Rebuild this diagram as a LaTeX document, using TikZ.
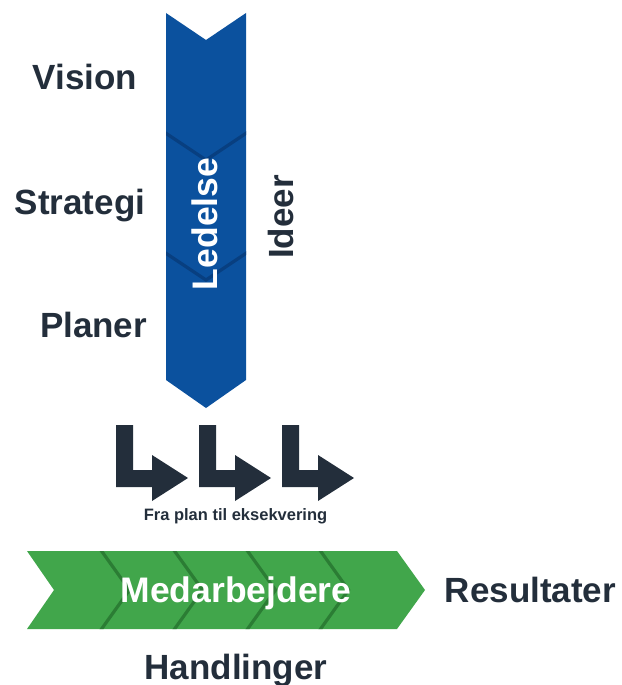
\documentclass[tikz,border=0pt]{standalone}
\usepackage{fontspec}
\setmainfont{Liberation Sans}
\definecolor{ink}{HTML}{232E3B}
\definecolor{bluearrow}{HTML}{0B519E}
\definecolor{blueline}{HTML}{083F80}
\definecolor{greenarrow}{HTML}{41A64B}
\definecolor{greenline}{HTML}{2B7D34}
\tikzset{
  big/.style={font=\fontsize{35}{40}\selectfont\bfseries, text=ink, inner sep=0pt},
  bigwhite/.style={font=\fontsize{35.5}{40}\selectfont\bfseries, text=white, inner sep=0pt},
  small/.style={font=\fontsize{16.5}{20}\selectfont\bfseries, text=ink, inner sep=0pt},
  corner/.style={fill=ink, draw=none},
  chev/.style={line width=3.2pt},
}
\begin{document}
\begin{tikzpicture}[x=1pt,y=-1pt]
\useasboundingbox (0,0) rectangle (621,685);
% blue arrow
\begin{scope}
\path[fill=bluearrow] (166,13) -- (206,40) -- (246,13) -- (246,380) -- (206,408) -- (166,380) -- cycle;
\clip (166,13) -- (206,40) -- (246,13) -- (246,380) -- (206,408) -- (166,380) -- cycle;
\draw[chev, blueline] (164,132) -- (206,160) -- (248,132);
\draw[chev, blueline] (164,252) -- (206,280) -- (248,252);
\end{scope}
% green arrow
\begin{scope}
\path[fill=greenarrow] (27,551) -- (397,551) -- (425,590) -- (397,629) -- (27,629) -- (54,590) -- cycle;
\clip (27,551) -- (397,551) -- (425,590) -- (397,629) -- (27,629) -- (54,590) -- cycle;
\foreach \xx in {101.5,174.5,247.5,320.5}{
  \draw[chev, greenline] (\xx-1.4,549) -- (\xx+28,590) -- (\xx-1.4,631);
}
\end{scope}
% corner arrows
\foreach \dx in {0,83,166}{
  \path[corner] (116+\dx,425) -- (133+\dx,425) -- (133+\dx,470) -- (152+\dx,470) -- (152+\dx,455)
     -- (188+\dx,478) -- (152+\dx,501) -- (152+\dx,487) -- (116+\dx,487) -- cycle;
}
% texts
\node[big, anchor=base] (vision) at (85,89) {Vision};
\node[big, anchor=base] (strategi) at (80,214) {Strategi};
\node[big, anchor=base] (planer) at (93.5,337) {Planer};
\node[bigwhite, rotate=90] (ledelse) at (205,224) {Ledelse};
\node[big, rotate=90] (ideer) at (281,217) {Ideer};
\node[small, anchor=base] (fra) at (235.5,520) {Fra plan til eksekvering};
\node[bigwhite, anchor=base] (medarb) at (236,602.5) {Medarbejdere};
\node[big, anchor=base] (result) at (530.5,602) {Resultater};
\node[big, anchor=base] (handl) at (236,679) {Handlinger};
\end{tikzpicture}
\end{document}
